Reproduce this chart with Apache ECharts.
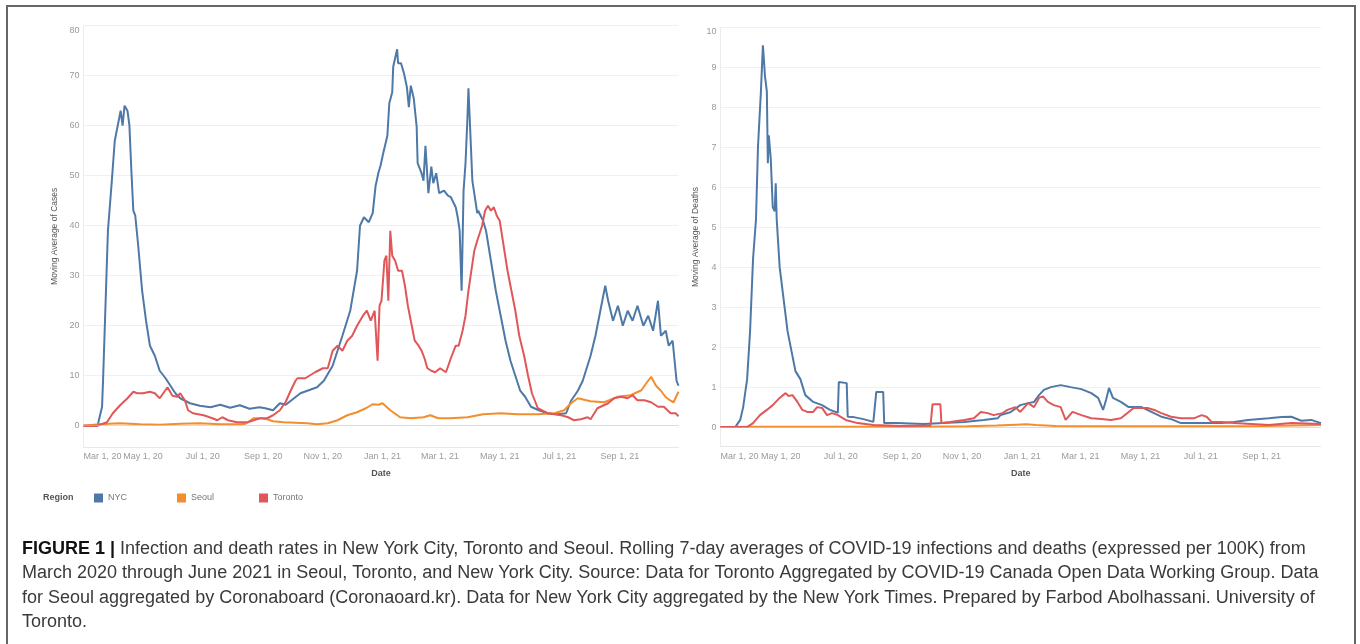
<!DOCTYPE html>
<html>
<head>
<meta charset="utf-8">
<script src="https://cdn.jsdelivr.net/npm/echarts@6/dist/echarts.min.js"></script>
<style>
  html, body { margin: 0; padding: 0; background: #fff; }
  #chart { width: 1360px; height: 644px; }
</style>
</head>
<body>
<div id="chart"></div>
<script>
// x values are days counted from Mar 1, 2020
var tickDays = [0, 61, 122, 184, 245, 306, 365, 426, 487, 549];
var tickLabels = ['Mar 1, 20', 'May 1, 20', 'Jul 1, 20', 'Sep 1, 20', 'Nov 1, 20',
  'Jan 1, 21', 'Mar 1, 21', 'May 1, 21', 'Jul 1, 21', 'Sep 1, 21'];
var casesTicks = [0, 10, 20, 30, 40, 50, 60, 70, 80];
var deathsTicks = [0, 1, 2, 3, 4, 5, 6, 7, 8, 9, 10];
var regions = ['NYC', 'Seoul', 'Toronto'];

// moving average of cases (per 100K)
var nycCases = [[0,0],[14,0],[15,0.5],[19,3.8],[20,9],[25,39],[29,49],[32,57],[35,60],[38,63],[40,60],[42,64],[45,63],[47,60],[49,51],[51,43],[53,42],[56,36],[60,27],[64,21],[68,16],[73,14],[78,11],[84,9.5],[89,8],[94,6.5],[99,5.5],[109,4.5],[119,4],[130,3.7],[140,4.2],[150,3.6],[160,4.1],[170,3.4],[180,3.7],[186,3.5],[194,3.1],[201,4.5],[207,4.2],[222,6.5],[239,7.7],[246,9],[255,12],[265,18],[273,23],[280,31],[283,40],[287,41.7],[292,40.7],[296,42.5],[299,48],[302,50.7],[304,52],[307,54.7],[311,58],[313,64.5],[316,66.7],[317,71.8],[321,75.3],[322,72.5],[325,72.5],[328,70.5],[329,70.7],[331,67.7],[333,63.7],[335,68],[338,65.5],[341,59.8],[342,52.5],[346,50.5],[348,49],[350,56],[353,46.5],[356,51.8],[358,48.5],[361,50.5],[364,46.5],[369,47],[373,46],[376,45.7],[379,44.5],[381,43.7],[383,41.7],[385,39],[387,27],[389,47],[391,52.5],[393,61.7],[394,67.5],[396,67.5],[398,49],[399,47.7],[403,42.5],[404,43],[409,41],[412,39],[417,33],[422,27],[427,22],[432,17],[437,13],[442,10],[447,7],[452,5.8],[458,3.8],[466,3.1],[475,2.5],[485,2.3],[494,2.5],[499,5],[506,7],[511,9],[519,14],[524,18],[529,23],[534,28],[537,25],[542,21],[547,24],[552,20],[557,23],[562,21],[567,24],[573,20],[578,22],[583,19],[588,25],[591,18],[596,19],[599,16],[603,17],[605,13],[607,9],[609,8]];
var seoulCases = [[0,0],[16,0.3],[37,0.5],[58,0.3],[78,0.2],[99,0.4],[119,0.5],[140,0.3],[160,0.3],[166,0.4],[174,1.5],[181,1.5],[188,1.3],[194,0.9],[205,0.7],[229,0.5],[239,0.3],[250,0.5],[260,1.1],[270,2.1],[280,2.7],[289,3.5],[296,4.3],[302,4.2],[306,4.5],[314,3.1],[324,1.7],[335,1.5],[348,1.7],[355,2.1],[363,1.5],[376,1.5],[393,1.7],[409,2.3],[427,2.5],[444,2.3],[465,2.3],[482,2.5],[492,3.1],[499,4.5],[506,5.5],[519,4.9],[533,4.7],[547,5.8],[560,6.1],[571,7.1],[576,8.5],[581,9.8],[586,8],[591,7],[596,5.7],[601,5],[604,4.7],[607,6],[609,6.8]];
var torontoCases = [[0,0],[14,0],[24,0.7],[30,2.5],[37,4],[45,5.5],[51,6.8],[55,6.5],[61,6.5],[68,6.8],[73,6.5],[78,5.5],[86,7.7],[91,6],[96,5.8],[99,6.5],[104,5],[107,3.1],[112,2.5],[123,2.1],[132,1.5],[137,1.1],[142,1.7],[148,1.1],[157,0.7],[168,0.7],[174,1.1],[181,1.5],[188,1.5],[194,2.1],[201,3.1],[207,4.8],[212,7],[217,9],[219,9.5],[227,9.5],[237,10.7],[245,11.5],[250,11.5],[255,15],[260,16],[265,15],[270,17],[275,18],[280,20],[286,22],[290,23],[294,21],[298,23],[301,13],[303,24],[305,25],[308,33],[310,34],[312,25],[314,39],[316,34],[319,33],[322,31],[326,31],[329,28],[332,24],[335,21],[339,17],[343,16],[346,15],[349,13.5],[352,11.5],[356,11],[360,10.7],[365,11.5],[371,10.7],[376,13.5],[381,16],[384,16],[388,19],[391,22],[394,27],[397,31],[400,35],[403,37],[408,40],[411,43],[414,44],[417,43],[420,43.7],[423,42],[426,41],[430,36],[434,31],[438,27],[442,23],[446,18],[451,14],[455,10],[459,6.5],[465,3.5],[475,2.5],[489,2.1],[496,1.7],[502,1.1],[509,1.3],[516,1.7],[519,1.3],[526,3.5],[537,4.5],[543,5.5],[550,5.8],[557,5.5],[562,6.1],[567,5.1],[574,5.1],[581,4.7],[588,3.8],[594,3.8],[601,2.5],[606,2.5],[609,1.9]];

// moving average of deaths (per 100K)
var nycDeaths = [[0,0],[15,0],[20,0.18],[23,0.5],[27,1.2],[30,2.4],[33,4.2],[36,5.2],[38,7],[41,8.4],[43,9.55],[44,9.2],[45,8.8],[47,8.4],[48,6.6],[49,7.3],[51,6.7],[53,5.5],[55,5.4],[56,6.1],[57,5.2],[60,4],[64,3.2],[68,2.4],[72,1.9],[76,1.4],[81,1.2],[86,0.8],[94,0.63],[103,0.55],[111,0.43],[119,0.36],[120,1.13],[128,1.1],[129,0.26],[135,0.25],[145,0.2],[155,0.13],[157,0.13],[158,0.88],[165,0.88],[166,0.1],[179,0.1],[206,0.08],[226,0.1],[247,0.13],[267,0.18],[281,0.22],[284,0.3],[294,0.37],[304,0.55],[312,0.6],[318,0.63],[323,0.8],[328,0.93],[335,1.0],[345,1.05],[355,1.0],[366,0.95],[376,0.85],[383,0.73],[388,0.43],[391,0.68],[394,0.98],[398,0.73],[406,0.63],[414,0.5],[427,0.5],[437,0.38],[447,0.26],[457,0.2],[467,0.1],[488,0.1],[508,0.1],[521,0.13],[535,0.18],[556,0.22],[569,0.25],[579,0.26],[589,0.16],[599,0.18],[609,0.1]];
var seoulDeaths = [[0,0],[40,0.01],[100,0.01],[150,0.01],[200,0.01],[250,0.02],[280,0.04],[300,0.06],[310,0.07],[320,0.05],[340,0.03],[400,0.02],[450,0.02],[500,0.02],[550,0.03],[580,0.04],[609,0.05]];
var torontoDeaths = [[0,0],[27,0],[33,0.1],[40,0.3],[47,0.43],[53,0.55],[60,0.73],[66,0.85],[69,0.78],[73,0.8],[78,0.63],[83,0.43],[88,0.38],[94,0.38],[98,0.5],[103,0.48],[108,0.3],[113,0.35],[119,0.3],[127,0.18],[139,0.1],[155,0.05],[183,0.03],[213,0.04],[215,0.57],[223,0.57],[224,0.1],[233,0.13],[247,0.18],[257,0.22],[264,0.38],[271,0.35],[277,0.3],[286,0.35],[291,0.43],[299,0.5],[304,0.38],[312,0.6],[318,0.5],[323,0.73],[327,0.77],[332,0.63],[338,0.55],[345,0.5],[350,0.18],[357,0.38],[366,0.3],[376,0.22],[386,0.2],[396,0.18],[406,0.22],[414,0.38],[419,0.48],[433,0.48],[440,0.43],[447,0.35],[457,0.26],[467,0.22],[480,0.22],[488,0.3],[493,0.26],[498,0.13],[508,0.13],[521,0.1],[556,0.05],[579,0.1],[609,0.08]];

var colors = { NYC: '#4e79a7', Seoul: '#f28e2b', Toronto: '#e15759' };

var captionLines = [
  '{b|FIGURE 1 |} Infection and death rates in New York City, Toronto and Seoul. Rolling 7-day averages of COVID-19 infections and deaths (expressed per 100K) from',
  'March 2020 through June 2021 in Seoul, Toronto, and New York City. Source: Data for Toronto Aggregated by COVID-19 Canada Open Data Working Group. Data',
  'for Seoul aggregated by Coronaboard (Coronaoard.kr). Data for New York City aggregated by the New York Times. Prepared by Farbod Abolhassani. University of',
  'Toronto.'
];

var font = "'Liberation Sans', Arial, sans-serif";

function xAxisFor(idx) {
  return {
    type: 'value',
    gridIndex: idx,
    min: 0,
    max: 609,
    name: 'Date',
    nameLocation: 'middle',
    nameGap: 22,
    nameMoveOverlap: false,
    nameTextStyle: { fontSize: 9, color: '#555', fontWeight: 'bold', fontFamily: font },
    axisLine: { show: true, onZero: false, lineStyle: { color: '#e8e8e8' } },
    axisTick: { show: false },
    splitLine: { show: false },
    axisLabel: {
      customValues: tickDays,
      formatter: function (v) { return tickLabels[tickDays.indexOf(v)]; },
      fontSize: 9,
      color: '#9a9a9a',
      fontFamily: font,
      margin: 5,
      alignMinLabel: 'left'
    }
  };
}

function yAxisFor(idx, name, min, max, ticks, gap) {
  return {
    type: 'value',
    gridIndex: idx,
    min: min,
    max: max,
    name: name,
    nameLocation: 'middle',
    nameGap: gap,
    nameRotate: 90,
    nameMoveOverlap: false,
    nameTextStyle: { fontSize: 8.5, color: '#555', fontFamily: font },
    axisLine: { show: true, lineStyle: { color: '#ececec' } },
    axisTick: { show: false, customValues: ticks },
    splitLine: { show: true, lineStyle: { color: '#f0f0f0', width: 1 } },
    axisLabel: {
      customValues: ticks,
      fontSize: 9,
      color: '#9a9a9a',
      fontFamily: font,
      margin: 4,
      verticalAlignMaxLabel: 'top'
    }
  };
}

function lineSeries(name, data, idx, zeroLine) {
  var s = {
    name: name,
    type: 'line',
    xAxisIndex: idx,
    yAxisIndex: idx,
    data: data,
    showSymbol: false,
    symbol: 'none',
    lineStyle: { width: 2, color: colors[name] },
    itemStyle: { color: colors[name] },
    emphasis: { disabled: true }
  };
  if (zeroLine) {
    s.markLine = {
      silent: true,
      symbol: 'none',
      label: { show: false },
      lineStyle: { type: 'dotted', color: '#c8c8c8', width: 1 },
      data: [{ yAxis: 0 }]
    };
  }
  return s;
}

// one legend per region so the items sit at Tableau's even spacing
var legendLeft = [94, 177, 259];
var legends = regions.map(function (r, i) {
  return {
    data: [r],
    left: legendLeft[i],
    top: 493.5,
    padding: 0,
    icon: 'rect',
    itemWidth: 9,
    itemHeight: 9,
    selectedMode: false,
    textStyle: { fontSize: 9, color: '#777', fontFamily: font }
  };
});

var chart = echarts.init(document.getElementById('chart'));

var graphics = [
  {
    type: 'rect',
    silent: true,
    shape: { x: 7, y: 6, width: 1348, height: 700 },
    style: { fill: 'none', stroke: '#666', lineWidth: 2 }
  },
  {
    type: 'text',
    silent: true,
    x: 43,
    y: 498,
    style: { text: 'Region', fontSize: 9, fontWeight: 'bold', fontFamily: font, fill: '#555', verticalAlign: 'middle' }
  }
];
captionLines.forEach(function (t, i) {
  graphics.push({
    type: 'text',
    silent: true,
    x: 22,
    y: 549 + i * 24.4,
    style: {
      text: t,
      fontSize: 18,
      fontFamily: font,
      fill: '#3a3a3a',
      verticalAlign: 'middle',
      rich: { b: { fontSize: 18, fontFamily: font, fontWeight: 'bold', fill: '#111' } }
    }
  });
});

chart.setOption({
  animation: false,
  backgroundColor: '#fff',
  textStyle: { fontFamily: font },
  grid: [
    { left: 83.5, right: 681.5, top: 25.7, bottom: 197, outerBoundsMode: 'none', containLabel: false },
    { left: 720.5, right: 39, top: 27.3, bottom: 197.3, outerBoundsMode: 'none', containLabel: false }
  ],
  legend: legends,
  xAxis: [xAxisFor(0), xAxisFor(1)],
  yAxis: [
    yAxisFor(0, 'Moving Average of Cases', -4.25, 80, casesTicks, 24.5),
    yAxisFor(1, 'Moving Average of Deaths', -0.49, 10, deathsTicks, 20.5)
  ],
  series: [
    lineSeries('NYC', nycCases, 0, true),
    lineSeries('Seoul', seoulCases, 0, false),
    lineSeries('Toronto', torontoCases, 0, false),
    lineSeries('NYC', nycDeaths, 1, true),
    lineSeries('Seoul', seoulDeaths, 1, false),
    lineSeries('Toronto', torontoDeaths, 1, false)
  ],
  graphic: graphics
});
</script>
</body>
</html>
